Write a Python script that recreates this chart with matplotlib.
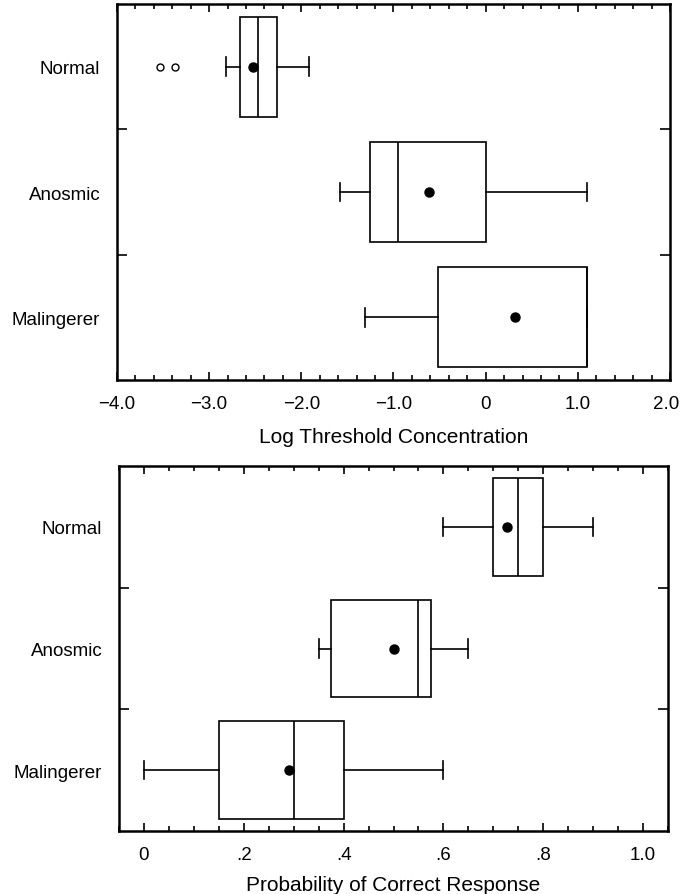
import matplotlib
matplotlib.use('Agg')
import matplotlib.pyplot as plt
from matplotlib.ticker import FixedLocator, MultipleLocator
from matplotlib.transforms import ScaledTranslation
import numpy as np

plt.rcParams['font.family'] = ['Liberation Sans', 'DejaVu Sans']
plt.rcParams['font.size'] = 13.5

groups = ['Normal', 'Anosmic', 'Malingerer']

# top panel: log threshold concentration
thr_q1 = [-2.67, -1.26, -0.52]
thr_med = [-2.47, -0.95, 1.10]
thr_q3 = [-2.26, 0.0, 1.10]
thr_lo = [-2.82, -1.58, -1.31]
thr_hi = [-1.92, 1.10, 1.10]
thr_mean = [-2.52, -0.62, 0.32]
thr_out = [[-3.53, -3.37], [], []]

# bottom panel: probability of correct response
prob_q1 = [0.70, 0.375, 0.15]
prob_med = [0.75, 0.55, 0.30]
prob_q3 = [0.80, 0.575, 0.40]
prob_lo = [0.60, 0.35, 0.0]
prob_hi = [0.90, 0.65, 0.60]
prob_mean = [0.727, 0.50, 0.29]
prob_out = [[], [], []]


def make_stats(q1, med, q3, lo, hi, mean, out):
    stats = []
    for i in range(len(groups)):
        stats.append({'label': groups[i], 'q1': q1[i], 'med': med[i], 'q3': q3[i],
                      'whislo': lo[i], 'whishi': hi[i], 'mean': mean[i],
                      'fliers': np.array(out[i])})
    return stats


def draw_panel(ax, stats, xlim, major, minor, labels, xlabel, labelpad):
    lw = 1.2
    ax.bxp(stats, positions=[1, 2, 3], orientation='horizontal', widths=0.8,
           capwidths=0.15, showmeans=True, patch_artist=True,
           boxprops=dict(facecolor='white', edgecolor='black', linewidth=lw),
           medianprops=dict(color='black', linewidth=lw),
           whiskerprops=dict(color='black', linewidth=lw),
           capprops=dict(color='black', linewidth=lw),
           meanprops=dict(marker='o', markerfacecolor='black',
                          markeredgecolor='black', markersize=6.5),
           flierprops=dict(marker='o', markerfacecolor='white',
                           markeredgecolor='black', markersize=5,
                           markeredgewidth=1.0))
    ax.set_xlim(xlim)
    ax.set_ylim(3.5, 0.5)
    ax.xaxis.set_major_locator(FixedLocator(major))
    ax.set_xticklabels(labels)
    ax.xaxis.set_minor_locator(MultipleLocator(minor))
    ax.set_yticks([1, 2, 3])
    ax.set_yticklabels(groups)
    ax.yaxis.set_minor_locator(FixedLocator([1.5, 2.5]))
    ax.tick_params(axis='x', which='both', direction='in', top=True, bottom=True,
                   width=1.2, pad=10.5)
    ax.tick_params(axis='x', which='major', length=6)
    ax.tick_params(axis='x', which='minor', length=3.5)
    ax.tick_params(axis='y', which='major', length=0, pad=12)
    ax.tick_params(axis='y', which='minor', direction='in', left=True, right=True,
                   length=7, width=1.2)
    for s in ax.spines.values():
        s.set_linewidth(1.8)
    ax.set_xlabel(xlabel, labelpad=labelpad, fontsize=15)


fig = plt.figure(figsize=(6.81, 8.95), dpi=100)
ax1 = fig.add_axes([0.1718, 0.5743, 0.812, 0.4201])
ax2 = fig.add_axes([0.1747, 0.0704, 0.8063, 0.4078])

draw_panel(ax1, make_stats(thr_q1, thr_med, thr_q3, thr_lo, thr_hi, thr_mean, thr_out),
           (-4, 2), [-4, -3, -2, -1, 0, 1, 2], 0.2,
           ['\u22124.0', '\u22123.0', '\u22122.0', '\u22121.0', '0', '1.0', '2.0'],
           'Log Threshold Concentration', 11)
draw_panel(ax2, make_stats(prob_q1, prob_med, prob_q3, prob_lo, prob_hi, prob_mean, prob_out),
           (-0.05, 1.05), [0, 0.2, 0.4, 0.6, 0.8, 1.0], 0.05,
           ['0', '.2', '.4', '.6', '.8', '1.0'],
           'Probability of Correct Response', 9)

# keep the last top tick label inside the figure edge
last = ax1.get_xticklabels()[-1]
last.set_transform(last.get_transform() + ScaledTranslation(-4 / 100, 0, fig.dpi_scale_trans))

fig.savefig('out.png', dpi=100)
